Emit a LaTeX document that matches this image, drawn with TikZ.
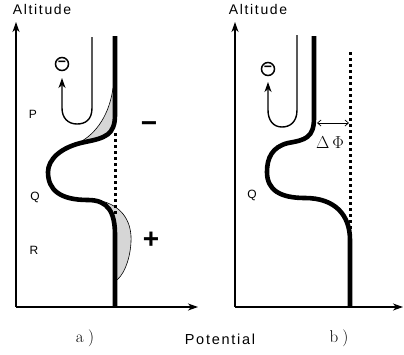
\documentclass[tikz,border=0pt]{standalone}
\usepackage{fontspec}
\usepackage{amsmath}
\usetikzlibrary{arrows.meta,calc,positioning}
\newfontfamily\lblfont{Liberation Sans}[LetterSpace=12.0]
\newfontfamily\signfont{Liberation Sans}

\begin{document}
\begin{tikzpicture}[x=1pt,y=-1pt,>={Stealth[length=10pt,width=7pt,inset=3pt]},
  axis/.style={line width=1.3pt},
  profile/.style={line width=4.6pt},
  track/.style={line width=1.4pt},
  dotline/.style={line width=3pt,dash pattern=on 3pt off 3pt},
  stipple/.style={fill=black!16},
  word/.style={font=\lblfont\fontsize{14}{14}\selectfont,inner sep=0pt},
  region/.style={font=\lblfont\fontsize{12}{12}\selectfont,inner sep=0pt},
  sign/.style={font=\signfont\bfseries\fontsize{28}{28}\selectfont,inner sep=0pt},
  caption/.style={font=\fontsize{17}{17}\selectfont,inner sep=0pt},
  ion/.style={circle,draw,line width=1.5pt,inner sep=0pt,minimum size=13pt,
    font=\signfont\bfseries\fontsize{14}{14}\selectfont}]
  \useasboundingbox (0,0) rectangle (404,354);

  % panel a
  \coordinate (oa) at (16,307);
  \coordinate (ya) at (16,22);
  \coordinate (xa) at (198,307);
  \draw[axis,->] (oa) -- (ya);
  \draw[axis,->] (oa) -- (xa);

  \fill[stipple] (82,141) .. controls (100,130) and (110,110) .. (113,88)
    -- (115,88) -- (115,115) .. controls (115,135) and (105,138) .. (82,141);
  \fill[stipple] (97,200) .. controls (114,202) and (115,215) .. (115,235)
    -- (115,281) .. controls (122,278) and (130,262) .. (131,242)
    .. controls (132,225) and (125,205) .. (97,200);
  \draw[line width=0.6pt] (82,141) .. controls (100,130) and (110,110) .. (113,88);
  \draw[line width=0.6pt] (97,200) .. controls (125,205) and (132,225) .. (131,242)
    .. controls (130,262) and (122,278) .. (115,281);

  \draw[dotline] (115,133) -- (115,214);
  \draw[profile] (115,36) -- (115,115)
    .. controls (115,135) and (105,138) .. (85,142)
    .. controls (60,147) and (48,160) .. (48,172)
    .. controls (48,190) and (60,200) .. (88,200)
    .. controls (108,200) and (115,212) .. (115,235) -- (oa-|115,0);

  \node[ion] (ionA) at (62,64) {−};
  \coordinate (ua) at (92,37);
  \draw[track,->] (ua) -- (92,108) .. controls (92,120) and (85,124) .. (77,124)
    .. controls (68,124) and (62,118) .. (62,108) -- (62,78);

  \node[word] (altA) at (42,9) {Altitude};
  \node[region] (pA) at (33,114) {P};
  \node[region] (qA) at (35,197) {Q};
  \node[region] (rA) at (34,250) {R};
  \node[sign] (minus) at (149,127) {−};
  \node[sign] (plus) at (151,240) {+};
  \node[caption] (capA) at (85,338) {a\hspace{0.25em})};

  % panel b
  \coordinate (ob) at (235,307);
  \coordinate (yb) at (235,22);
  \coordinate (xb) at (403,307);
  \draw[axis,->] (ob) -- (yb);
  \draw[axis,->] (ob) -- (xb);

  \draw[dotline] (350,52) -- (350,236);
  \draw[profile] (314,36) -- (314,118)
    .. controls (314,138) and (305,140) .. (288,143)
    .. controls (272,147) and (267,158) .. (267,172)
    .. controls (267,190) and (280,198) .. (305,198)
    .. controls (335,198) and (350,215) .. (350,240) -- (ob-|350,0);

  \node[ion] (ionB) at (268,69) {−};
  \coordinate (ub) at (297,35);
  \draw[track,->] (ub) -- (297,110) .. controls (297,122) and (290,127) .. (282,127)
    .. controls (273,127) and (268,120) .. (268,110) -- (268,82);

  \coordinate (gapL) at (317,123);
  \coordinate (gapR) at (349,123);
  \draw[line width=0.7pt,{Straight Barb[length=3.5pt,width=6pt]}-{Straight Barb[length=3.5pt,width=6pt]}]
    (gapL) -- (gapR);
  \node[caption,font=\fontsize{16}{16}\selectfont] (dphi) at (330,143) {$\Delta\,\Phi$};

  \node[word] (altB) at (258,9) {Altitude};
  \node[region] (qB) at (252,195) {Q};
  \node[caption] (capB) at (339,338) {b\hspace{0.25em})};

  \node[word,font=\lblfont\fontsize{14.5}{14.5}\selectfont] (pot) at (220,339) {Potential};
\end{tikzpicture}
\end{document}
